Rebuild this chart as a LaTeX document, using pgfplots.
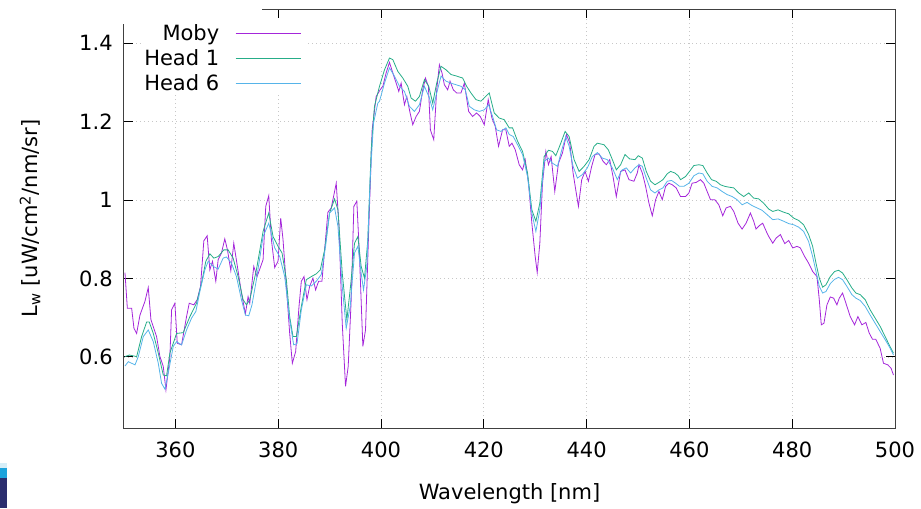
\documentclass[border=0pt]{standalone}
\usepackage{fontspec}
\setmainfont{DejaVu Sans}
\usepackage{pgfplots}
\pgfplotsset{compat=1.18}
\usepackage{pgfplotstable}

\definecolor{colMoby}{HTML}{9400D3}
\definecolor{colHeadOne}{HTML}{009E73}
\definecolor{colHeadSix}{HTML}{56B4E9}

% Moby spectrum
\pgfplotstableread{
x y
350.19 0.815
350.65 0.724
351.49 0.724
351.94 0.673
352.46 0.660
353.11 0.707
354.08 0.742
354.72 0.777
355.24 0.695
356.34 0.652
356.99 0.601
357.64 0.576
358.16 0.516
358.93 0.601
359.26 0.720
359.90 0.737
360.36 0.635
361.20 0.631
362.17 0.703
362.69 0.737
363.59 0.733
364.24 0.746
364.89 0.780
365.53 0.896
366.18 0.909
366.70 0.822
367.22 0.844
367.86 0.793
368.32 0.848
368.96 0.865
369.61 0.901
370.13 0.873
370.78 0.820
371.36 0.890
372.01 0.835
372.85 0.763
373.62 0.710
374.14 0.754
374.47 0.737
375.25 0.831
375.89 0.805
377.06 0.848
377.58 0.984
378.16 1.011
378.68 0.899
379.32 0.828
379.97 0.844
380.49 0.954
380.94 0.899
381.59 0.780
382.23 0.661
382.75 0.584
383.40 0.614
384.05 0.729
384.50 0.793
385.02 0.805
385.60 0.746
386.12 0.780
386.76 0.801
387.28 0.771
387.86 0.793
388.51 0.793
389.03 0.873
389.67 0.969
390.32 0.980
390.77 1.009
391.29 1.043
391.81 0.937
392.46 0.686
393.10 0.525
393.62 0.576
394.20 0.746
394.72 0.984
395.30 0.997
395.82 0.856
396.47 0.627
396.99 0.669
397.63 0.933
398.28 1.179
399.06 1.264
399.83 1.281
400.36 1.290
401.00 1.324
401.65 1.351
402.30 1.324
402.95 1.298
403.46 1.277
403.92 1.298
404.56 1.243
405.02 1.264
405.66 1.222
406.18 1.192
406.83 1.213
407.47 1.226
408.12 1.281
408.64 1.311
409.22 1.290
409.61 1.179
410.26 1.154
410.84 1.281
411.36 1.345
411.87 1.324
412.33 1.294
412.97 1.281
413.43 1.303
414.07 1.281
414.72 1.273
415.56 1.273
416.21 1.298
417.05 1.226
417.82 1.213
418.60 1.222
419.31 1.213
420.09 1.192
420.86 1.256
421.58 1.209
422.22 1.188
422.87 1.137
423.65 1.179
424.29 1.179
424.95 1.137
425.47 1.145
426.12 1.128
426.89 1.090
427.54 1.077
428.06 1.103
428.70 1.043
429.35 0.941
430.00 0.856
430.39 0.815
430.90 0.890
431.42 1.043
432.07 1.124
432.58 1.090
433.10 1.111
433.81 1.022
434.53 1.094
435.30 1.120
436.08 1.167
436.73 1.145
437.37 1.069
437.89 1.026
438.41 0.984
439.05 1.052
439.70 1.073
440.35 1.048
440.99 1.086
441.64 1.116
442.42 1.118
443.20 1.099
443.84 1.090
444.49 1.103
445.14 1.060
445.78 1.009
446.62 1.073
447.47 1.077
448.24 1.052
449.21 1.048
449.86 1.069
450.19 1.090
450.84 1.069
451.48 1.035
452.13 0.992
452.78 0.960
453.43 1.001
454.07 1.022
454.72 1.001
455.37 1.035
456.01 1.043
456.66 1.039
457.44 1.031
458.28 1.009
459.25 1.009
459.90 1.018
460.54 1.043
461.32 1.045
462.16 1.052
462.81 1.043
463.45 1.022
464.10 1.001
464.94 1.001
465.72 0.988
466.49 0.960
467.14 0.980
467.98 0.984
468.63 0.971
469.47 0.941
470.25 0.926
471.02 0.941
471.87 0.967
472.51 0.946
472.96 0.926
473.61 0.935
474.26 0.941
475.10 0.916
475.44 0.907
476.22 0.890
476.86 0.903
477.70 0.912
478.55 0.889
479.32 0.897
480.10 0.878
480.94 0.882
481.59 0.878
482.43 0.856
483.20 0.839
483.98 0.818
484.82 0.805
485.27 0.746
485.66 0.682
486.18 0.686
486.76 0.733
487.41 0.753
488.06 0.750
488.70 0.733
489.16 0.750
489.80 0.763
490.45 0.737
491.29 0.703
492.13 0.682
492.78 0.703
493.56 0.682
494.33 0.688
494.98 0.661
495.63 0.645
496.27 0.645
497.11 0.622
497.76 0.584
498.60 0.580
499.25 0.571
499.70 0.554
}\tabMoby

% Head 1 spectrum
\pgfplotstableread{
x y
350.19 0.601
351.04 0.605
352.46 0.601
353.43 0.652
354.40 0.689
354.92 0.689
355.70 0.660
356.67 0.610
357.64 0.554
358.28 0.552
358.93 0.610
360.23 0.660
361.52 0.662
362.82 0.703
364.11 0.737
365.08 0.788
365.92 0.844
366.70 0.863
367.48 0.852
368.32 0.856
369.42 0.873
370.26 0.873
371.23 0.852
372.20 0.805
373.17 0.746
373.82 0.733
374.47 0.746
375.76 0.822
377.06 0.920
378.16 0.967
379.00 0.907
379.97 0.882
380.75 0.865
381.59 0.797
382.23 0.703
382.88 0.652
383.53 0.652
384.50 0.729
385.47 0.797
386.44 0.805
387.41 0.812
388.19 0.822
389.03 0.873
390.00 0.967
390.97 1.003
391.62 0.975
392.46 0.814
393.36 0.695
394.07 0.780
394.85 0.890
395.50 0.907
396.14 0.831
396.79 0.801
397.44 0.899
398.09 1.128
398.73 1.239
399.38 1.273
399.71 1.290
400.68 1.332
401.65 1.362
402.30 1.358
403.27 1.328
404.24 1.311
405.21 1.290
405.86 1.260
406.70 1.252
407.47 1.264
408.45 1.307
409.29 1.290
410.06 1.247
410.84 1.298
411.68 1.341
412.65 1.332
413.62 1.320
414.72 1.316
415.89 1.311
416.66 1.290
417.50 1.273
418.47 1.256
419.44 1.252
420.28 1.263
421.06 1.273
422.03 1.222
423.00 1.209
423.97 1.205
424.94 1.184
425.60 1.184
426.57 1.150
427.54 1.124
428.51 1.069
429.35 0.975
430.13 0.946
430.90 0.992
431.74 1.111
432.58 1.127
433.36 1.124
434.01 1.113
434.98 1.145
435.82 1.175
436.60 1.162
437.57 1.103
438.54 1.073
439.51 1.086
440.48 1.103
441.45 1.137
442.10 1.145
443.39 1.141
444.23 1.128
445.14 1.099
445.78 1.077
446.62 1.090
447.47 1.116
448.37 1.105
449.41 1.103
450.05 1.113
450.84 1.107
451.61 1.073
452.45 1.048
453.30 1.039
454.07 1.045
454.85 1.052
455.69 1.067
456.34 1.073
457.18 1.069
457.82 1.062
458.28 1.052
459.25 1.060
460.02 1.073
460.87 1.088
461.84 1.090
462.61 1.088
463.45 1.069
464.30 1.052
465.20 1.048
466.04 1.039
466.88 1.035
467.66 1.033
468.63 1.031
469.60 1.018
470.57 1.009
471.54 1.018
472.51 1.005
473.48 1.003
474.45 0.992
475.44 0.977
476.22 0.971
477.25 0.975
478.35 0.969
479.32 0.965
480.29 0.954
481.26 0.948
482.23 0.937
483.20 0.912
483.98 0.882
484.63 0.839
485.27 0.801
485.92 0.778
486.57 0.784
487.41 0.805
488.25 0.818
489.03 0.821
489.80 0.814
490.64 0.797
491.61 0.776
492.39 0.763
493.23 0.759
494.20 0.746
495.17 0.720
496.14 0.699
497.11 0.678
498.09 0.652
498.86 0.631
499.70 0.610
}\tabHeadOne

% Head 6 spectrum
\pgfplotstableread{
x y
350.19 0.577
350.84 0.588
352.14 0.580
352.78 0.601
353.75 0.652
354.72 0.669
355.70 0.639
356.67 0.584
357.31 0.533
357.96 0.518
358.61 0.559
359.58 0.627
360.23 0.639
361.20 0.631
362.17 0.669
363.14 0.699
363.98 0.716
364.76 0.767
365.73 0.822
366.38 0.844
367.35 0.831
368.32 0.824
369.29 0.852
369.94 0.855
370.91 0.839
371.88 0.805
372.85 0.746
373.62 0.707
374.27 0.705
374.90 0.733
375.76 0.797
377.06 0.907
378.16 0.941
379.32 0.878
380.30 0.856
381.27 0.805
382.23 0.695
383.01 0.631
383.66 0.634
384.50 0.720
385.47 0.784
386.44 0.781
387.41 0.793
388.38 0.810
389.22 0.882
390.00 0.967
390.97 0.980
391.62 0.933
392.46 0.780
393.23 0.673
394.01 0.729
394.85 0.865
395.50 0.882
396.14 0.814
396.60 0.771
397.24 0.831
397.89 1.052
398.54 1.196
399.38 1.247
399.71 1.252
400.68 1.298
401.65 1.337
402.62 1.316
403.59 1.290
404.56 1.277
405.53 1.239
406.50 1.226
407.47 1.243
408.45 1.290
409.42 1.260
410.06 1.230
410.84 1.273
411.68 1.316
412.65 1.303
413.62 1.298
414.59 1.294
415.56 1.290
416.40 1.281
417.18 1.239
418.15 1.230
419.12 1.226
420.09 1.230
420.93 1.243
421.71 1.213
422.49 1.179
423.33 1.175
424.30 1.184
424.95 1.167
425.73 1.162
426.57 1.141
427.54 1.116
428.51 1.060
429.35 0.967
430.13 0.920
430.90 0.975
431.74 1.099
432.58 1.107
433.36 1.094
434.33 1.086
435.17 1.128
435.95 1.162
436.60 1.137
437.37 1.086
438.21 1.056
439.18 1.065
440.15 1.082
441.12 1.111
442.10 1.121
443.07 1.107
444.04 1.103
445.01 1.082
445.98 1.052
446.82 1.076
447.72 1.082
448.57 1.069
449.41 1.082
450.19 1.090
450.84 1.086
451.61 1.056
452.45 1.026
453.30 1.018
454.07 1.026
454.85 1.031
455.69 1.048
456.53 1.050
457.31 1.043
458.08 1.035
458.93 1.035
459.90 1.043
460.87 1.062
461.84 1.069
462.61 1.067
463.45 1.048
464.42 1.035
465.39 1.031
466.36 1.022
467.33 1.014
468.31 1.009
469.28 1.001
470.25 0.988
471.22 0.994
472.19 0.986
473.16 0.980
474.13 0.974
475.10 0.963
476.22 0.950
477.25 0.952
478.35 0.946
479.32 0.940
480.29 0.937
481.26 0.931
482.23 0.920
483.20 0.894
483.98 0.856
484.63 0.818
485.27 0.780
485.92 0.763
486.57 0.767
487.41 0.787
488.25 0.798
489.03 0.803
489.80 0.797
490.64 0.780
491.61 0.759
492.39 0.750
493.23 0.744
494.20 0.729
495.17 0.707
496.14 0.686
497.11 0.665
498.09 0.644
498.86 0.627
499.70 0.605
}\tabHeadSix

\begin{document}
\begin{tikzpicture}
\begin{axis}[
  name=ax,
  scale only axis,
  width=578.25pt, height=314.25pt,
  xmin=350, xmax=500, ymin=0.419, ymax=1.487,
  xtick={360,380,400,420,440,460,480,500},
  ytick={0.6,0.8,1,1.2,1.4},
  tick align=inside,
  major tick length=7pt,
  tick style={black, line width=0.75pt},
  axis line style={black!75, line width=0.75pt},
  grid=major,
  grid style={black!22, line width=0.7pt, dash pattern=on 0.7pt off 2.3pt},
  /pgf/number format/assume math mode=true,
  ticklabel style={font=\fontsize{15.75}{18}\selectfont},
  xticklabel style={yshift=-7pt},
  yticklabel style={xshift=-5pt},
  label style={font=\fontsize{15.75}{18}\selectfont},
  xlabel={Wavelength [nm]},
  xlabel style={at={(axis description cs:0.5,0)}, anchor=center, yshift=-49.5pt},
  ylabel={L\textsubscript{w} [uW/cm\textsuperscript{2}/nm/sr]},
  ylabel style={at={(axis description cs:0,0.5)}, anchor=center, yshift=70.5pt},
  legend cell align=right,
  legend plot pos=right,
  legend style={draw=none, fill=white, inner sep=0pt, outer sep=0pt,
    at={(axis description cs:0.2348,0.976)}, anchor=north east,
    font=\fontsize{15.75}{18}\selectfont,
    nodes={inner sep=0pt, text height=15.75pt, text depth=3pt},
    row sep=0pt, column sep=0pt},
  legend image code/.code={
    \path (0pt,0pt) (63.75pt,0pt);
    \draw[#1] (12pt,-1.7pt) -- (60.75pt,-1.7pt);},
]
\addplot[colMoby!85!white, line width=0.6pt, no markers] table[x=x,y=y] {\tabMoby};
\addlegendentry{Moby}
\addplot[colHeadOne!85!white, line width=0.6pt, no markers] table[x=x,y=y] {\tabHeadOne};
\addlegendentry{Head 1}
\addplot[colHeadSix, line width=0.6pt, no markers] table[x=x,y=y] {\tabHeadSix};
\addlegendentry{Head 6}
\end{axis}
% corner of the frame hidden in the reference
\fill[white] ([shift={(-2pt,2pt)}]ax.north west) rectangle ([shift={(103.5pt,-11.25pt)}]ax.north west);
\pgfresetboundingbox
\path[use as bounding box] ([shift={(-93pt,-60pt)}]ax.south west) rectangle ([shift={(19.5pt,6.75pt)}]ax.north east);
% small coloured strip at the lower left of the screenshot
\definecolor{stripA}{HTML}{D6EEF8}
\definecolor{stripB}{HTML}{1CA3DC}
\definecolor{stripC}{HTML}{2A2D6E}
\fill[stripA] ([shift={(-93pt,-26.25pt)}]ax.south west) rectangle ([shift={(-87.75pt,-30pt)}]ax.south west);
\fill[stripB] ([shift={(-93pt,-30pt)}]ax.south west) rectangle ([shift={(-87.75pt,-37.5pt)}]ax.south west);
\fill[stripC] ([shift={(-93pt,-37.5pt)}]ax.south west) rectangle ([shift={(-87.75pt,-60pt)}]ax.south west);
\end{tikzpicture}
\end{document}
